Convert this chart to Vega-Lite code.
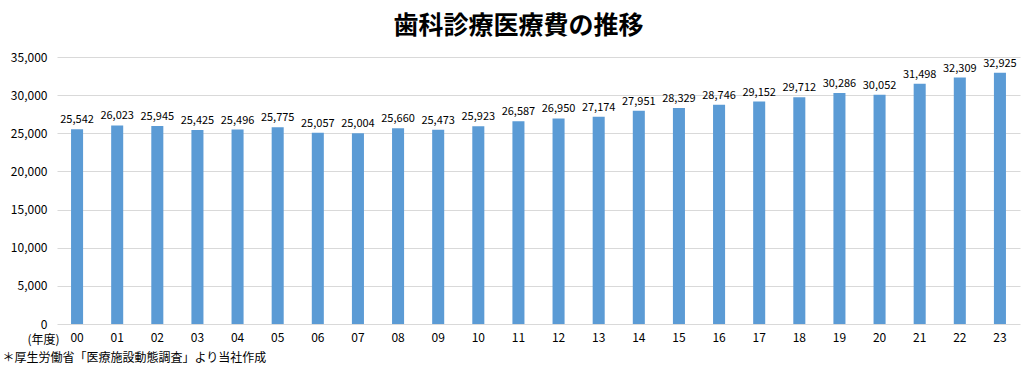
{
  "$schema": "https://vega.github.io/schema/vega-lite/v6.json",
  "autosize": {"type": "none"},
  "width": 963,
  "height": 267,
  "padding": {"left": 57, "top": 57, "right": 13, "bottom": 48},
  "background": "white",
  "config": {"font": "Noto Sans CJK JP", "view": {"stroke": null}},
  "title": {"text": "歯科診療医療費の推移", "fontSize": 25, "fontWeight": "bold", "color": "#000000", "anchor": "middle", "offset": 12, "dx": -20},
  "data": {"values": [
    {"year": "00", "value": 25542}, {"year": "01", "value": 26023}, {"year": "02", "value": 25945},
    {"year": "03", "value": 25425}, {"year": "04", "value": 25496}, {"year": "05", "value": 25775},
    {"year": "06", "value": 25057}, {"year": "07", "value": 25004}, {"year": "08", "value": 25660},
    {"year": "09", "value": 25473}, {"year": "10", "value": 25923}, {"year": "11", "value": 26587},
    {"year": "12", "value": 26950}, {"year": "13", "value": 27174}, {"year": "14", "value": 27951},
    {"year": "15", "value": 28329}, {"year": "16", "value": 28746}, {"year": "17", "value": 29152},
    {"year": "18", "value": 29712}, {"year": "19", "value": 30286}, {"year": "20", "value": 30052},
    {"year": "21", "value": 31498}, {"year": "22", "value": 32309}, {"year": "23", "value": 32925}
  ]},
  "encoding": {
    "x": {"field": "year", "type": "ordinal", "sort": null,
      "scale": {"paddingInner": 0.7, "paddingOuter": 0.35},
      "axis": {"title": "(年度)", "labelAngle": 0, "labelFontSize": 12, "labelColor": "#000000", "labelPadding": 8,
        "domain": false, "ticks": false, "titleFontSize": 12, "titleFontWeight": "normal", "titleColor": "#000000",
        "titleX": -14, "titleY": 15, "titleAlign": "center", "titleBaseline": "middle"}},
    "y": {"field": "value", "type": "quantitative",
      "scale": {"domain": [0, 35000], "nice": false},
      "axis": {"values": [0, 5000, 10000, 15000, 20000, 25000, 30000, 35000], "format": ",.0f", "labelFontSize": 12, "labelColor": "#000000",
        "labelPadding": 10, "labelOverlap": false, "domain": false, "ticks": false, "gridColor": "#d9d9d9", "gridWidth": 1,
        "title": "＊厚生労働省「医療施設動態調査」より当社作成", "titleAngle": 0, "titleX": -55, "titleY": 300,
        "titleAlign": "left", "titleBaseline": "middle", "titleFontSize": 12, "titleFontWeight": "normal", "titleColor": "#000000"}}
  },
  "layer": [
    {"mark": {"type": "bar", "color": "#5b9bd5"}},
    {"mark": {"type": "text", "baseline": "bottom", "dy": -4, "fontSize": 11, "color": "#000000"},
      "encoding": {"text": {"field": "value", "type": "quantitative", "format": ","}}}
  ]
}
